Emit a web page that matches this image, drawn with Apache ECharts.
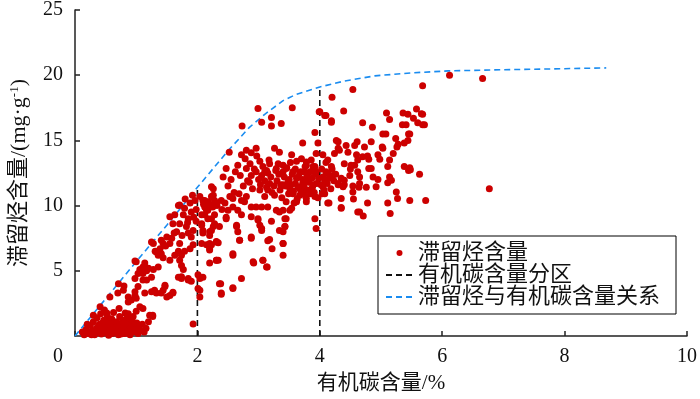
<!DOCTYPE html>
<html>
<head>
<meta charset="utf-8">
<script src="https://cdn.jsdelivr.net/npm/echarts@6/dist/echarts.min.js"></script>
<style>html,body{margin:0;padding:0;background:#fff;}#chart{width:700px;height:399px;}</style>
</head>
<body>
<div id="chart"></div>
<script>
// ---- data ----
const xTicks = [0, 2, 4, 6, 8, 10];
const yTicks = [5, 10, 15, 20, 25];

// 滞留烃含量 scatter points [有机碳含量 %, 滞留烃含量 mg/g]
const pointsLowToc = [
 [0.12,0.3],[0.18,0.5],[0.22,0.2],[0.25,0.8],[0.28,0.4],[0.3,1.1],[0.32,0.1],[0.35,0.6],[0.36,1.4],[0.38,0.3],
 [0.4,0.9],[0.42,1.7],[0.43,0.15],[0.45,0.5],[0.47,1.2],[0.48,2.0],[0.5,0.8],[0.52,0.3],[0.53,1.5],[0.55,0.05],
 [0.56,1.0],[0.58,0.6],[0.6,1.3],[0.61,0.2],[0.63,1.8],[0.64,0.9],[0.66,0.4],[0.68,1.1],[0.7,0.7],[0.71,0.1],
 [0.73,1.5],[0.74,0.3],[0.76,0.9],[0.78,1.2],[0.79,0.5],[0.81,0.2],[0.83,0.8],[0.85,1.4],[0.86,0.4],[0.88,1.0],
 [0.9,0.1],[0.91,0.6],[0.93,1.2],[0.95,0.3],[0.97,0.8],[0.99,0.5],[1.01,1.0],[1.03,0.2],[1.05,0.7],[1.08,0.4],
 [1.1,0.9],[1.13,0.3],[1.16,0.6],[0.45,1.0],[0.55,0.4],[0.65,0.7],[0.75,0.15],[0.62,0.55],[0.52,1.15],[0.38,0.75],
 [0.33,0.35],[0.8,1.0],[0.7,0.35],[0.58,0.95],[0.48,0.25],[0.27,0.1],[0.95,1.5],[0.87,1.7],[1.0,1.9],[1.2,1.1],
 [0.72,2.1],[0.41,2.25],[0.52,1.76],[0.70,3.3],[0.80,3.83],[1.03,4.8],[1.11,4.3],[1.17,5.0],[0.98,3.1],[0.87,2.6],
 [1.0,2.9],[1.14,3.3],[1.06,2.25],[0.82,1.76],[1.14,5.6],[1.06,5.1],[1.11,4.8],[1.0,5.7],[0.98,4.4],[1.17,4.3],
 [0.98,3.4],[0.87,3.0],[1.03,3.8],[0.71,4.0],[0.79,3.5],[0.57,3.0],[0.92,2.76],[1.11,2.1],[1.27,1.5],[1.22,1.6],
 [0.3,1.6],[0.2,0.9],[0.15,0.1]
];
const pointsMidToc = [
 [1.69,10.0],[1.79,9.8],[1.88,10.2],[1.9,9.5],[1.94,9.1],[1.85,9.0],[1.77,9.3],[1.71,8.6],[1.6,8.6],[1.63,9.3],
 [1.82,8.4],[1.93,8.1],[1.85,7.9],[1.9,7.6],[1.98,8.8],[1.98,9.7],[1.96,10.4],[1.5,7.6],[1.58,7.5],[1.55,7.1],
 [1.44,7.1],[1.39,6.7],[1.31,6.5],[1.36,6.2],[1.41,6.3],[1.28,7.1],[1.25,7.2],[1.71,7.1],[1.69,6.5],[1.74,6.2],
 [1.79,6.5],[1.88,6.7],[1.93,7.0],[1.71,5.8],[1.74,5.4],[1.77,5.1],[1.85,4.4],[1.9,4.2],[2.01,4.7],[2.04,4.4],
 [2.01,3.65],[2.04,3.0],[1.2,5.2],[1.25,4.5],[1.28,5.1],[1.36,5.3],[1.44,6.0],[1.55,5.8],[1.63,6.2],[1.25,3.4],
 [1.33,3.3],[1.44,3.5],[1.5,3.0],[1.6,3.3],[1.74,4.4],[1.3,3.5],[1.41,3.3],[1.47,3.9],[1.6,3.35],[1.27,1.6],
 [1.74,4.55],[1.55,3.1],[1.47,3.8],[1.69,4.5],[1.85,4.3],[2.04,3.5],[1.93,0.92],[1.71,10.05],[1.55,9.15],[1.41,7.35],
 [1.33,6.45],[1.11,5.3],[0.98,5.75],[1.8,10.5],[1.92,10.8],[1.66,8.0],[1.75,7.7],[1.84,8.7],[1.62,7.9],[1.48,6.9]
];
const pointsHighToc = [
 [2.07,9.3],[2.23,10.0],[2.17,9.0],[2.2,8.0],[2.28,8.6],[2.31,7.2],[2.2,6.7],[2.31,5.8],[2.04,10.7],[2.12,10.4],
 [2.31,10.2],[2.23,11.45],[2.26,10.8],[2.15,9.65],[2.15,7.0],[2.2,5.6],
 [2.99,17.45],[3.21,16.75],[3.05,16.4],[3.21,16.1],[3.37,16.3],[2.73,16.1],[3.55,17.5],[2.52,14.1],[2.72,13.9],[2.8,14.25],
 [2.88,14.05],[2.96,14.4],[3.26,14.4],[3.34,14.1],[3.02,13.4],[3.18,13.2],[3.32,13.2],[3.54,13.9],[3.72,14.8],[2.47,12.85],
 [2.42,12.2],[2.8,12.85],[2.88,12.3],[2.85,11.8],[2.96,12.6],[3.13,12.7],[3.29,12.85],[3.4,12.6],[3.45,12.85],[3.56,12.6],
 [3.62,12.1],[3.48,11.8],[3.4,11.6],[3.51,11.3],[3.64,11.45],[3.72,11.7],[3.81,11.95],[3.89,11.6],[3.86,11.05],[3.75,11.05],
 [3.67,10.8],[3.56,10.9],[3.78,10.55],[3.92,10.7],[3.78,13.35],[3.89,13.0],[3.86,13.5],[3.94,12.6],[3.75,12.6],[3.67,12.5],
 [3.18,11.7],[3.15,11.2],[3.26,10.8],[3.1,10.7],[3.02,11.2],[2.8,10.7],[2.72,10.4],[2.58,10.55],[2.53,10.7],[2.58,9.9],
 [2.5,9.65],[2.39,10.4],[2.26,11.3],[2.23,10.7],[2.28,10.4],[2.09,10.4],[2.17,9.65],[2.23,9.0],[2.26,8.4],[2.07,8.6],
 [2.09,7.9],[2.2,7.1],[2.31,7.25],[2.36,8.4],[2.47,9.0],[2.66,9.65],[2.77,10.3],[2.88,9.9],[2.96,9.9],[3.05,9.9],
 [3.15,9.9],[3.29,9.65],[3.4,9.65],[3.51,9.65],[3.45,9.0],[3.43,8.4],[3.34,8.1],[3.4,7.1],[3.4,6.2],[3.18,7.4],
 [3.05,8.25],[2.99,8.9],[2.88,7.6],[2.69,7.35],[2.64,8.4],[2.58,6.3],[2.91,5.7],[3.07,5.8],[3.13,5.3],[2.72,4.4],
 [2.58,3.65],[2.39,3.3],[2.36,4.0],[2.31,5.8],[3.92,9.0],[3.94,8.25],[3.97,14.8],[3.94,14.0],[3.92,15.6],[3.78,13.1],
 [3.92,13.0],[2.07,8.5],[2.09,8.1],[2.23,8.1],[2.2,7.7],[2.07,7.1],[2.2,6.6],[2.23,7.0],[2.34,7.15],[2.34,5.8],
 [2.58,6.2],[2.64,8.5],[2.66,8.0],[2.69,7.35],[2.47,9.1],[2.72,9.3],[2.88,9.15],[2.99,9.0],[3.02,8.5],[3.05,8.1],
 [2.88,7.5],[3.15,7.3],[3.22,6.7],[3.21,8.8],[3.4,8.0],[3.43,8.4],[3.43,9.0],[3.4,7.1],[3.07,5.8],[2.92,5.6],
 [3.14,5.3],[2.58,3.7],[2.38,4.0],[2.39,3.2],[2.09,4.5],[3.54,9.8],[3.62,10.3],[3.78,10.3],[3.34,9.5],[2.12,9.9],
 [3.30,11.9],[3.33,12.4],[3.35,11.2],[3.38,10.6],[3.42,12.2],[3.44,11.5],[3.46,12.9],[3.49,10.9],[3.5,12.0],[3.53,11.6],
 [3.55,12.4],[3.57,11.1],[3.6,12.8],[3.6,11.7],[3.63,10.5],[3.65,12.2],[3.67,11.3],[3.69,12.6],[3.7,10.9],[3.72,12.0],
 [3.74,11.5],[3.76,13.0],[3.77,10.7],[3.79,12.3],[3.8,11.2],[3.82,11.8],[3.84,12.6],[3.85,10.9],[3.87,12.1],[3.88,11.4],
 [3.9,12.9],[3.91,11.0],[3.93,12.4],[3.95,11.7],[3.97,10.6],[3.98,12.1],[3.4,13.1],[3.52,13.3],[3.45,10.3],[3.58,10.2],
 [3.36,11.6],[3.62,13.4],[3.7,13.6],[3.25,11.5],[3.28,12.7],[3.2,12.2],[3.15,12.5],[3.22,11.0],[3.1,11.9],[3.05,12.3],
 [2.62,12.6],[2.66,13.1],[2.7,12.3],[2.75,11.5],[2.78,13.6],[2.82,11.9],[2.86,13.2],[2.9,11.3],[2.93,12.8],[2.97,13.8],
 [3.0,12.0],[3.03,11.6],[3.07,13.0],[3.1,12.6],[3.13,11.4],[3.17,13.5],[2.6,11.0],[2.55,12.0],[2.5,11.5],[2.68,10.9],
 [2.1,10.1],[2.14,9.8],[2.18,10.3],[2.25,9.9],[2.32,10.0],[2.4,9.7],[2.45,10.2],[2.12,9.3],[2.28,9.3]
];
const pointsRichToc = [
 [4.0,17.2],[4.1,16.9],[4.19,16.5],[4.05,13.9],[4.13,13.5],[4.24,14.0],[4.32,14.25],[4.3,14.9],[4.43,14.6],[4.57,14.6],
 [4.6,13.9],[4.51,13.1],[4.4,13.2],[4.19,13.0],[4.13,12.5],[4.21,12.3],[4.08,11.95],[4.35,12.1],[4.3,11.7],[4.4,11.6],
 [4.49,12.3],[4.62,12.6],[4.65,11.7],[4.54,11.05],[4.13,10.2],[4.35,10.55],[4.35,9.8],[4.62,9.5],[4.08,10.9],[4.05,11.45],
 [4.03,12.8],[4.05,12.2],[4.07,11.2],[4.1,12.6],[4.12,11.7],[4.15,12.1],[4.18,11.3],[4.2,12.8],[4.23,11.9],[4.02,11.6],
 [4.04,10.9],[4.26,12.4],[4.1,13.3],
 [4.54,18.9],[5.68,19.2],[6.12,20.0],[6.66,19.75],[4.2,18.3],[4.39,17.25],[4.08,16.9],[4.19,16.4],[3.99,17.2],[4.7,16.35],
 [4.86,16.0],[5.09,17.1],[5.14,16.6],[5.36,17.1],[5.44,17.0],[5.58,17.4],[5.68,17.0],[5.53,16.7],[5.6,16.35],[5.35,16.2],
 [5.41,16.2],[5.71,16.2],[5.47,15.5],[5.44,15.0],[5.38,14.8],[5.24,15.15],[5.26,14.5],[5.08,15.5],[5.03,15.5],[5.02,14.5],
 [4.84,14.9],[4.73,14.5],[4.61,14.9],[4.27,15.0],[4.3,14.4],[4.95,13.9],[4.98,13.55],[5.14,13.5],[5.11,13.0],[4.78,13.8],
 [4.8,13.55],[4.7,13.75],[4.62,13.5],[4.57,13.1],[4.8,12.85],[4.65,12.2],[4.87,12.2],[5.14,12.2],[5.17,11.95],[5.38,13.0],
 [5.47,12.9],[5.45,12.7],[5.63,12.4],[4.4,11.95],[4.3,11.6],[4.38,11.45],[4.54,11.5],[4.64,11.4],[4.76,11.4],[4.92,11.45],
 [5.11,11.75],[5.25,11.05],[5.27,10.55],[5.47,10.4],[5.73,10.4],[5.11,10.2],[4.78,10.2],[4.55,10.5],[4.35,9.85],[4.15,10.2],
 [4.65,9.5],[4.71,9.2],[5.15,9.4],[5.66,17.05],[5.68,16.2],[6.77,11.3],[5.45,15.5],[5.03,14.4],[4.84,12.85],[5.48,12.75],
 [5.28,14.7],[4.46,14.1],[4.5,12.8],[4.95,12.0],[5.2,14.0]
];

// 滞留烃与有机碳含量关系 (fitted envelope)
const curveToc = [0, 0.5, 1.0, 1.5, 2.0, 2.5, 2.85, 3.1, 3.4, 3.6, 3.83, 4.0, 4.4, 4.9, 5.5, 6.1, 7.0, 8.0, 8.68];
const curveHc  = [0, 2.85, 5.7, 8.5, 11.4, 14.2, 16.0, 17.0, 18.05, 18.5, 18.85, 19.1, 19.55, 19.95, 20.18, 20.33, 20.42, 20.5, 20.56];

// 有机碳含量分区 (zone boundaries)
const zoneToc = [2, 4];
const zoneTop = [11.5, 19.1];

// ---- build ----
const scatterData = [].concat(pointsLowToc, pointsMidToc, pointsHighToc, pointsRichToc);
const curveData = curveToc.map((x, i) => [x, curveHc[i]]);
const zoneData = [];
zoneToc.forEach((x, i) => {
  if (i > 0) zoneData.push(['-', '-']);
  zoneData.push([x, 0]);
  zoneData.push([x, zoneTop[i]]);
});

const serif = '"Liberation Serif", "Times New Roman", "Noto Sans CJK SC", serif';
const cjk = '"Liberation Serif", "Noto Sans CJK SC", serif';
const hidden = {color: 'rgba(0,0,0,0)', borderWidth: 0, borderColor: 'rgba(0,0,0,0)'};

const chart = echarts.init(document.getElementById('chart'), null, {renderer: 'canvas'});
chart.setOption({
  animation: false,
  backgroundColor: '#fff',
  grid: {left: 75, right: 12, top: 10, bottom: 63, containLabel: false},
  legend: {
    orient: 'vertical',
    left: 378, top: 236,
    itemWidth: 27, itemHeight: 6, itemGap: 0,
    padding: [6, 16, 6, 7],
    borderColor: '#000', borderWidth: 1,
    textStyle: {fontSize: 22, lineHeight: 22, fontFamily: cjk, color: '#111'},
    data: [
      {name: '滞留烃含量', icon: 'circle'},
      {name: '有机碳含量分区', itemStyle: hidden},
      {name: '滞留烃与有机碳含量关系', itemStyle: hidden}
    ]
  },
  xAxis: {
    type: 'value', min: 0, max: 10, interval: 2,
    name: '有机碳含量/%', nameLocation: 'middle', nameGap: 37,
    nameTextStyle: {fontSize: 21, fontFamily: cjk, color: '#111'},
    axisLine: {show: true, onZero: false, lineStyle: {color: '#222', width: 1.5}},
    axisTick: {show: true, inside: true, length: 5, lineStyle: {color: '#222', width: 1.5}},
    splitLine: {show: false},
    axisLabel: {
      fontSize: 20, fontFamily: serif, color: '#111', margin: 11,
      formatter: v => v === 0 ? '{z|0}' : String(v),
      rich: {z: {fontSize: 20, fontFamily: serif, color: '#111', padding: [0, 34, 0, 0]}}
    }
  },
  yAxis: {
    type: 'value', min: 0, max: 25, interval: 5,
    name: '滞留烃含量/(mg·g{sup|-1})', nameLocation: 'middle', nameGap: 45,
    nameTextStyle: {fontSize: 22, fontFamily: cjk, color: '#111',
      rich: {sup: {fontSize: 13, fontFamily: serif, color: '#111', verticalAlign: 'top', lineHeight: 22}}},
    axisLine: {show: true, lineStyle: {color: '#222', width: 1.5}},
    axisTick: {show: true, inside: true, length: 5, lineStyle: {color: '#222', width: 1.5}},
    splitLine: {show: false},
    axisLabel: {fontSize: 20, fontFamily: serif, color: '#111', margin: 12, showMinLabel: false}
  },
  series: [
    {
      name: '滞留烃含量', type: 'scatter', data: scatterData,
      symbol: 'circle', symbolSize: 7,
      itemStyle: {color: '#cc0000', opacity: 1},
      z: 3
    },
    {
      name: '有机碳含量分区', type: 'line', data: zoneData,
      showSymbol: false, symbol: 'none', connectNulls: false,
      lineStyle: {color: '#111', width: 1.6, type: [6, 4]},
      itemStyle: {color: '#111'},
      z: 2
    },
    {
      name: '滞留烃与有机碳含量关系', type: 'line', data: curveData,
      showSymbol: false, symbol: 'none', smooth: false,
      lineStyle: {color: '#1a8cf0', width: 1.6, type: [6, 4]},
      itemStyle: {color: '#1a8cf0'},
      z: 2
    }
  ]
});
</script>
</body>
</html>
